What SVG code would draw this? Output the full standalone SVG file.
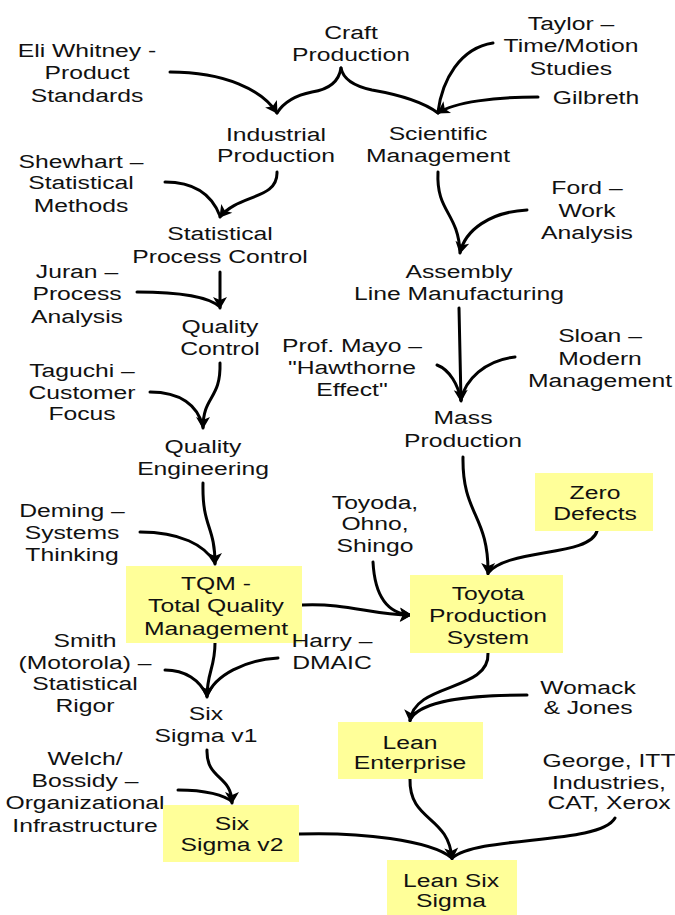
<svg xmlns="http://www.w3.org/2000/svg" width="675" height="915" viewBox="0 0 675 915">
  <style>
    text { font-family: "Liberation Sans", Arial, sans-serif; font-size: 19px; fill: #111; text-anchor: middle; }
    .box { fill: #FFFF99; stroke: none; }
    .link { fill: none; stroke: #000; stroke-width: 3; stroke-linecap: round; }
    .head { marker-end: url(#arrow); }
  </style>
  <defs>
    <marker id="arrow" markerUnits="userSpaceOnUse" markerWidth="16" markerHeight="16" viewBox="-12 -8 14 16" refX="0" refY="0" orient="auto">
      <path d="M1,0 L-11,-7 L-8,0 L-11,7 Z" fill="#000"/>
    </marker>
  </defs>

  <!-- connectors -->
  <g id="connectors">
    <path class="link" d="M341,68 Q338,88 312,92 Q287,97 277,113"/>
    <path class="link" d="M341,68 Q344,84 372,90 Q418,98 438,113"/>
    <path class="link head" d="M170,72 C225,72 262,90 277,113"/>
    <path class="link" d="M493,43 C460,48 442,80 438,112"/>
    <path class="link head" d="M538,97 C495,97 455,102 438,113"/>

    <path class="link head" d="M277,172 C278,200 238,194 220,217"/>
    <path class="link" d="M165,182 C195,182 212,195 220,216"/>

    <path class="link" d="M438,172 C436,212 458,212 460,252"/>
    <path class="link head" d="M527,210 C490,212 465,230 460,253"/>

    <path class="link head" d="M220,272 L220,308"/>
    <path class="link" d="M137,292 C180,292 208,296 220,307"/>

    <path class="link head" d="M220,363 C221,400 203,395 203,428"/>
    <path class="link" d="M150,392 C180,392 198,405 203,427"/>

    <path class="link head" d="M459,308 L461,401"/>
    <path class="link" d="M437,365 C450,370 458,385 461,400"/>
    <path class="link" d="M515,357 C485,360 465,380 461,400"/>

    <path class="link head" d="M203,483 C202,528 215,525 215,564"/>
    <path class="link" d="M140,532 C180,532 205,545 215,563"/>

    <path class="link head" d="M463,457 C462,515 489,515 488,574"/>
    <path class="link" d="M597,531 C590,557 508,548 488,573"/>
    <path class="link head" d="M373,562 C375,600 390,614 411,615"/>
    <path class="link head" d="M302,605 C350,603 370,615 411,615"/>

    <path class="link head" d="M215,643 C215,668 207,672 207,697"/>
    <path class="link" d="M165,670 C185,670 200,680 207,696"/>
    <path class="link" d="M278,658 C245,660 215,675 207,696"/>

    <path class="link head" d="M207,750 C206,780 232,775 232,803"/>
    <path class="link" d="M178,790 C205,790 225,795 232,802"/>

    <path class="link head" d="M488,653 C490,692 414,682 410,721"/>
    <path class="link" d="M527,695 C470,695 420,700 410,720"/>

    <path class="link" d="M299,834 C360,832 430,840 452,858"/>
    <path class="link head" d="M410,779 C409,822 449,815 452,859"/>
    <path class="link" d="M615,818 C600,845 480,835 452,858"/>
  </g>

  <!-- nodes -->
  <g id="craft-production">
    <text transform="translate(351,0) scale(1.3,1)"><tspan x="0" y="39">Craft</tspan><tspan x="0" y="61">Production</tspan></text>
  </g>
  <g id="eli-whitney">
    <text transform="translate(87,0) scale(1.3,1)"><tspan x="0" y="57">Eli Whitney -</tspan><tspan x="0" y="79">Product</tspan><tspan x="0" y="102">Standards</tspan></text>
  </g>
  <g id="taylor">
    <text transform="translate(571,0) scale(1.3,1)"><tspan x="0" y="30">Taylor –</tspan><tspan x="0" y="52">Time/Motion</tspan><tspan x="0" y="75">Studies</tspan></text>
  </g>
  <g id="gilbreth">
    <text transform="translate(596,0) scale(1.3,1)"><tspan x="0" y="104">Gilbreth</tspan></text>
  </g>
  <g id="industrial-production">
    <text transform="translate(276,0) scale(1.3,1)"><tspan x="0" y="141">Industrial</tspan><tspan x="0" y="162">Production</tspan></text>
  </g>
  <g id="scientific-management">
    <text transform="translate(438,0) scale(1.3,1)"><tspan x="0" y="140">Scientific</tspan><tspan x="0" y="162">Management</tspan></text>
  </g>
  <g id="shewhart">
    <text transform="translate(81,0) scale(1.3,1)"><tspan x="0" y="168">Shewhart –</tspan><tspan x="0" y="189">Statistical</tspan><tspan x="0" y="212">Methods</tspan></text>
  </g>
  <g id="ford">
    <text transform="translate(587,0) scale(1.3,1)"><tspan x="0" y="194">Ford –</tspan><tspan x="0" y="217">Work</tspan><tspan x="0" y="239">Analysis</tspan></text>
  </g>
  <g id="statistical-process-control">
    <text transform="translate(220,0) scale(1.3,1)"><tspan x="0" y="240">Statistical</tspan><tspan x="0" y="263">Process Control</tspan></text>
  </g>
  <g id="juran">
    <text transform="translate(77,0) scale(1.3,1)"><tspan x="0" y="278">Juran –</tspan><tspan x="0" y="300">Process</tspan><tspan x="0" y="323">Analysis</tspan></text>
  </g>
  <g id="assembly-line">
    <text transform="translate(459,0) scale(1.3,1)"><tspan x="0" y="278">Assembly</tspan><tspan x="0" y="300">Line Manufacturing</tspan></text>
  </g>
  <g id="quality-control">
    <text transform="translate(220,0) scale(1.3,1)"><tspan x="0" y="333">Quality</tspan><tspan x="0" y="355">Control</tspan></text>
  </g>
  <g id="mayo">
    <text transform="translate(352,0) scale(1.3,1)"><tspan x="0" y="352">Prof. Mayo –</tspan><tspan x="0" y="374">"Hawthorne</tspan><tspan x="0" y="396">Effect"</tspan></text>
  </g>
  <g id="sloan">
    <text transform="translate(600,0) scale(1.3,1)"><tspan x="0" y="342">Sloan –</tspan><tspan x="0" y="365">Modern</tspan><tspan x="0" y="387">Management</tspan></text>
  </g>
  <g id="taguchi">
    <text transform="translate(82,0) scale(1.3,1)"><tspan x="0" y="377">Taguchi –</tspan><tspan x="0" y="399">Customer</tspan><tspan x="0" y="420">Focus</tspan></text>
  </g>
  <g id="mass-production">
    <text transform="translate(463,0) scale(1.3,1)"><tspan x="0" y="424">Mass</tspan><tspan x="0" y="447">Production</tspan></text>
  </g>
  <g id="quality-engineering">
    <text transform="translate(203,0) scale(1.3,1)"><tspan x="0" y="453">Quality</tspan><tspan x="0" y="475">Engineering</tspan></text>
  </g>
  <g id="deming">
    <text transform="translate(72,0) scale(1.3,1)"><tspan x="0" y="517">Deming –</tspan><tspan x="0" y="539">Systems</tspan><tspan x="0" y="561">Thinking</tspan></text>
  </g>
  <g id="toyoda-ohno-shingo">
    <text transform="translate(375,0) scale(1.3,1)"><tspan x="0" y="509">Toyoda,</tspan><tspan x="0" y="530">Ohno,</tspan><tspan x="0" y="552">Shingo</tspan></text>
  </g>
  <g id="zero-defects">
    <rect class="box" x="535" y="473" width="118" height="58"/>
    <text transform="translate(595,0) scale(1.3,1)"><tspan x="0" y="499">Zero</tspan><tspan x="0" y="520">Defects</tspan></text>
  </g>
  <g id="tqm">
    <rect class="box" x="126" y="566" width="176" height="77"/>
    <text transform="translate(216,0) scale(1.3,1)"><tspan x="0" y="590">TQM -</tspan><tspan x="0" y="612">Total Quality</tspan><tspan x="0" y="635">Management</tspan></text>
  </g>
  <g id="toyota-production-system">
    <rect class="box" x="410" y="575" width="153" height="78"/>
    <text transform="translate(488,0) scale(1.3,1)"><tspan x="0" y="600">Toyota</tspan><tspan x="0" y="622">Production</tspan><tspan x="0" y="644">System</tspan></text>
  </g>
  <g id="smith">
    <text transform="translate(85,0) scale(1.3,1)"><tspan x="0" y="647">Smith</tspan><tspan x="0" y="669">(Motorola) –</tspan><tspan x="0" y="690">Statistical</tspan><tspan x="0" y="712">Rigor</tspan></text>
  </g>
  <g id="harry">
    <text transform="translate(332,0) scale(1.3,1)"><tspan x="0" y="647">Harry –</tspan><tspan x="0" y="669">DMAIC</tspan></text>
  </g>
  <g id="womack-jones">
    <text transform="translate(588,0) scale(1.3,1)"><tspan x="0" y="694">Womack</tspan><tspan x="0" y="714">&amp; Jones</tspan></text>
  </g>
  <g id="six-sigma-v1">
    <text transform="translate(206,0) scale(1.3,1)"><tspan x="0" y="720">Six</tspan><tspan x="0" y="742">Sigma v1</tspan></text>
  </g>
  <g id="lean-enterprise">
    <rect class="box" x="338" y="722" width="145" height="57"/>
    <text transform="translate(410,0) scale(1.3,1)"><tspan x="0" y="749">Lean</tspan><tspan x="0" y="769">Enterprise</tspan></text>
  </g>
  <g id="welch-bossidy">
    <text transform="translate(85,0) scale(1.3,1)"><tspan x="0" y="765">Welch/</tspan><tspan x="0" y="787">Bossidy –</tspan><tspan x="0" y="809">Organizational</tspan><tspan x="0" y="832">Infrastructure</tspan></text>
  </g>
  <g id="george-itt">
    <text transform="translate(609,0) scale(1.3,1)"><tspan x="0" y="767">George, ITT</tspan><tspan x="0" y="789">Industries,</tspan><tspan x="0" y="809">CAT, Xerox</tspan></text>
  </g>
  <g id="six-sigma-v2">
    <rect class="box" x="163" y="805" width="136" height="57"/>
    <text transform="translate(232,0) scale(1.3,1)"><tspan x="0" y="830">Six</tspan><tspan x="0" y="851">Sigma v2</tspan></text>
  </g>
  <g id="lean-six-sigma">
    <rect class="box" x="387" y="860" width="130" height="55"/>
    <text transform="translate(451,0) scale(1.3,1)"><tspan x="0" y="887">Lean Six</tspan><tspan x="0" y="907">Sigma</tspan></text>
  </g>
</svg>
